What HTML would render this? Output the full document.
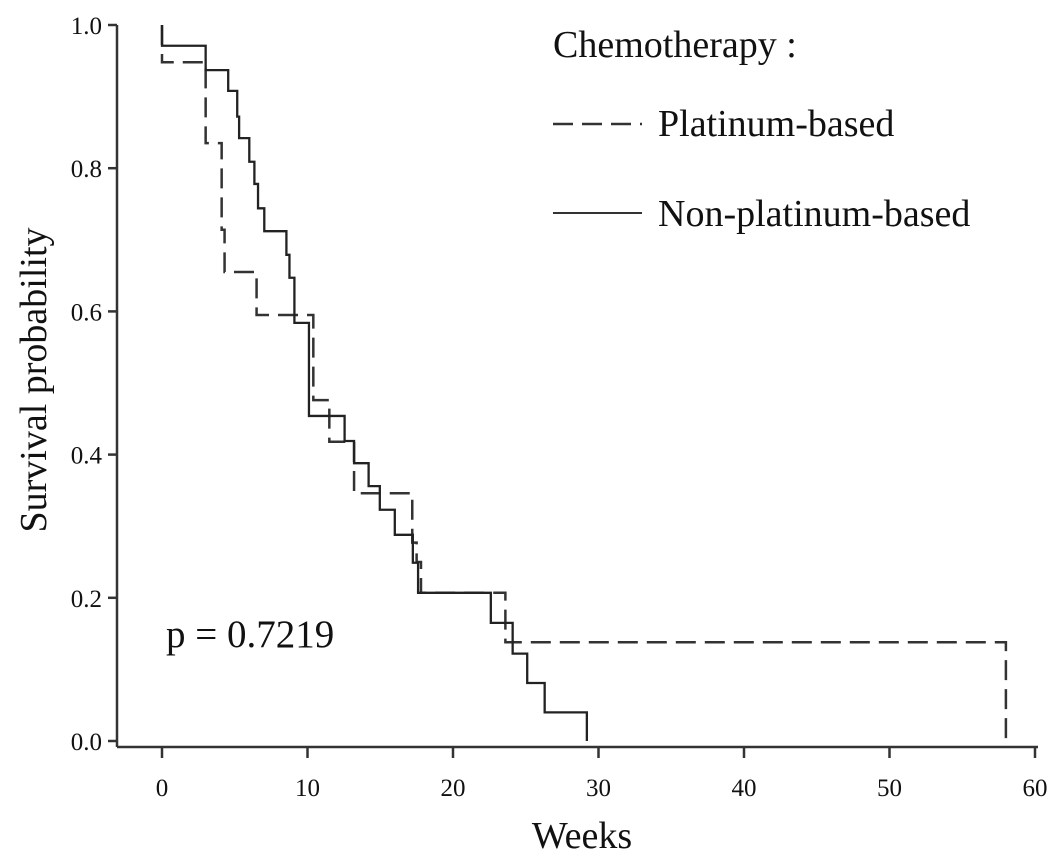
<!DOCTYPE html>
<html><head><meta charset="utf-8"><style>
body{margin:0;background:#fff}
svg{display:block;font-family:"Liberation Serif",serif}
</style></head><body>
<svg id="chart" width="1063" height="860" viewBox="0 0 1063 860">
<g id="axes" stroke="#333" stroke-width="2.5" fill="none"></g>
<g id="labels" fill="#111" font-size="25"></g>
<text x="582" y="848" font-size="38" text-anchor="middle" fill="#111">Weeks</text>
<text transform="translate(46,380) rotate(-90)" font-size="38" text-anchor="middle" fill="#111">Survival probability</text>
<text x="166" y="647" font-size="39" fill="#111">p = 0.7219</text>
<g>
<text x="553" y="57" font-size="38" fill="#111">Chemotherapy :</text>
<line x1="553" y1="124" x2="642" y2="124" stroke="#333" stroke-width="2.5" stroke-dasharray="20,9"/>
<text x="658" y="136" font-size="38" fill="#111">Platinum-based</text>
<line x1="553" y1="213" x2="642" y2="213" stroke="#333" stroke-width="2"/>
<text x="658" y="226" font-size="38" fill="#111">Non-platinum-based</text>
</g>
<g id="series"></g>
</svg>
<script>
const xTicks=[0,10,20,30,40,50,60];
const yTicks=[0,0.2,0.4,0.6,0.8,1.0];
const yTickLabels=["0.0","0.2","0.4","0.6","0.8","1.0"];
// step curves: time of drop, survival after drop
const platTimes=[0,3.0,4.1,4.3,6.5,10.4,11.5,13.2,17.2,17.5,17.8,23.6,58];
const platSurv=[0.948,0.835,0.714,0.655,0.595,0.476,0.418,0.346,0.277,0.25,0.207,0.138,0];
const nonTimes=[0,3.0,4.55,5.17,5.3,6.0,6.35,6.6,7.03,8.55,8.76,9.1,10.1,12.55,13.2,14.2,14.97,16.0,17.24,17.6,22.6,24.1,25.1,26.3,29.2];
const nonSurv=[0.971,0.937,0.908,0.872,0.842,0.809,0.778,0.744,0.712,0.679,0.647,0.584,0.454,0.419,0.388,0.356,0.323,0.288,0.249,0.207,0.165,0.122,0.081,0.04,0];
const X=v=>162+v*14.55, Y=v=>741-v*716;
const NS="http://www.w3.org/2000/svg";
const ax=document.getElementById('axes'), lb=document.getElementById('labels'), se=document.getElementById('series');
function mk(tag,attrs,parent){const e=document.createElementNS(NS,tag);for(const k in attrs)e.setAttribute(k,attrs[k]);parent.appendChild(e);return e;}
const yl=mk('line',{x1:117,y1:Y(1),x2:117,y2:747},ax);


const xl=mk('line',{x1:117,y1:747,x2:1038,y2:747},ax);


yTicks.forEach((t,i)=>{
  mk('line',{x1:108,y1:Y(t),x2:117,y2:Y(t)},ax);
  const tx=mk('text',{x:102,y:Y(t)+9,'text-anchor':'end'},lb);tx.textContent=yTickLabels[i];
  
  
});
xTicks.forEach(t=>{
  mk('line',{x1:X(t),y1:747,x2:X(t),y2:758},ax);
  const tx=mk('text',{x:X(t),y:796,'text-anchor':'middle'},lb);tx.textContent=t;
  
  
});
function stepPath(times,surv){
  let d='M'+X(0)+','+Y(1);
  for(let i=0;i<times.length;i++){d+=' H'+X(times[i])+' V'+Y(surv[i]);}
  return d;
}
const p1=mk('path',{d:stepPath(platTimes,platSurv),fill:'none',stroke:'#333','stroke-width':2.5,'stroke-dasharray':'20,9'},se);


const p2=mk('path',{d:stepPath(nonTimes,nonSurv),fill:'none',stroke:'#222','stroke-width':2.3},se);


</script>
</body></html>
